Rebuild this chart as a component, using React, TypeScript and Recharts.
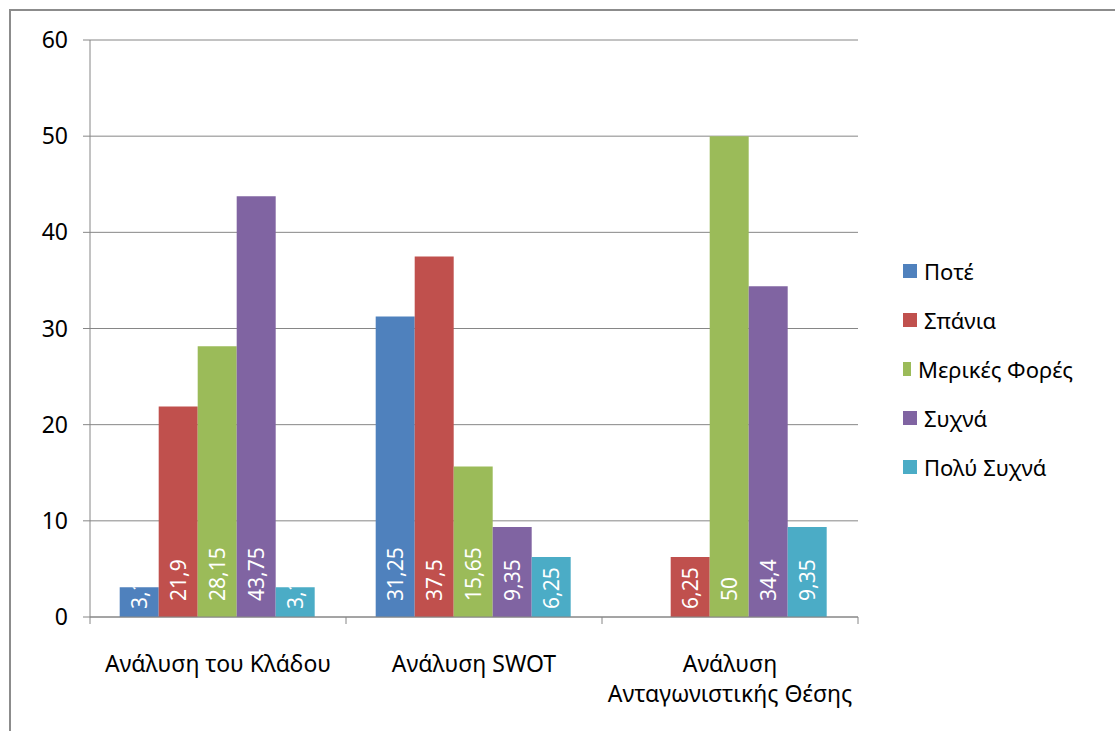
import React from "react";
import { BarChart, Bar, XAxis, YAxis, CartesianGrid, Legend, LabelList } from "recharts";

const FONT = "'Noto Sans', 'Open Sans', sans-serif";
const GRID = "#868686";
const LABEL_SIZE = 21;

const categories = ["Ανάλυση του Κλάδου", "Ανάλυση SWOT", "Ανάλυση\nΑνταγωνιστικής Θέσης"];
const pote = [3.1, 31.25, null];
const spania = [21.9, 37.5, 6.25];
const merikes = [28.15, 15.65, 50];
const syxna = [43.75, 9.35, 34.4];
const polySyxna = [3.1, 6.25, 9.35];
const yTicks = [0, 10, 20, 30, 40, 50, 60];

const series = [
  { key: "pote", name: "Ποτέ", color: "#4F81BD" },
  { key: "spania", name: "Σπάνια", color: "#C0504D" },
  { key: "merikes", name: "Μερικές Φορές", color: "#9BBB59" },
  { key: "syxna", name: "Συχνά", color: "#8064A2" },
  { key: "polySyxna", name: "Πολύ Συχνά", color: "#4BACC6" },
];

const data = categories.map((c, i) => ({
  name: c,
  pote: pote[i],
  spania: spania[i],
  merikes: merikes[i],
  syxna: syxna[i],
  polySyxna: polySyxna[i],
}));

function fmt(v: number) {
  return String(v).replace(".", ",");
}

// rough text length for label placement (digits ~0.57em, comma ~0.26em)
function textLen(s: string) {
  let w = 0;
  for (const ch of s) w += ch === "," ? 0.26 : 0.572;
  return w * LABEL_SIZE;
}

function makeLabel(key: string) {
  return (props: any) => {
    const { x, y, width, height, value, index } = props;
    if (value == null || value === 0) return null;
    const id = `clip-${key}-${index}`;
    const s = fmt(value);
    const h = Number(height);
    const pad = textLen(s) + 32 > h ? 8 : 16;
    const cx = Number(x) + Number(width) / 2;
    const base = Number(y) + h - pad;
    return (
      <g>
        <defs>
          <clipPath id={id}>
            <rect x={x} y={y} width={width} height={height} />
          </clipPath>
        </defs>
        <g clipPath={`url(#${id})`}>
          <g transform={`translate(${cx} ${base}) rotate(-90)`}>
            <text
              x={0}
              y={0}
              textAnchor="start"
              dominantBaseline="central"
              fill="#fff"
              fontSize={LABEL_SIZE}
              fontFamily={FONT}
            >
              {s}
            </text>
          </g>
        </g>
      </g>
    );
  };
}

function CategoryTick(props: any) {
  const { x, y, payload, index, visibleTicksCount } = props;
  const half = payload.offset || 128;
  const lines = String(payload.value).split("\n");
  const last = index === visibleTicksCount - 1;
  return (
    <g>
      <line x1={x - half} x2={x - half} y1={y} y2={y + 7} stroke={GRID} />
      {last && <line x1={x + half} x2={x + half} y1={y} y2={y + 7} stroke={GRID} />}
      {lines.map((l, i) => (
        <text
          key={i}
          x={x}
          y={y + 46 + i * 30}
          textAnchor="middle"
          dominantBaseline="central"
          fill="#000"
          fontSize={23}
          fontFamily={FONT}
        >
          {l}
        </text>
      ))}
    </g>
  );
}

function renderLegend(props: any) {
  const payload: any[] = props.payload || [];
  const items = series.map((s) => {
    const p = payload.find((e) => e.value === s.name);
    return { name: s.name, color: p ? p.color : s.color };
  });
  return (
    <ul style={{ listStyle: "none", margin: 0, padding: "6px 0 0 45px" }}>
      {items.map((e) => (
        <li
          key={e.name}
          style={{ height: 49, display: "flex", alignItems: "center", whiteSpace: "nowrap" }}
        >
          <span style={{ width: 14, height: 14, background: e.color, display: "inline-block", marginRight: 7 }} />
          <span style={{ fontSize: 22, fontFamily: FONT, color: "#000" }}>{e.name}</span>
        </li>
      ))}
    </ul>
  );
}

export default function App() {
  return (
    <div style={{ position: "fixed", left: 0, top: 0, width: 1115, height: 731, overflow: "hidden", background: "#fff" }}>
      <div
        style={{
          position: "absolute",
          left: 9,
          top: 9,
          width: 1200,
          height: 800,
          border: "2px solid #8c8c8c",
        }}
      />
      <div style={{ position: "absolute", left: 0, top: 0 }}>
        <BarChart
          width={1115}
          height={731}
          data={data}
          margin={{ top: 40, right: 42, bottom: 14, left: 20 }}
          barCategoryGap="11.6%"
          barGap={0}
        >
          <CartesianGrid vertical={false} stroke={GRID} />
          <XAxis
            dataKey="name"
            height={100}
            tickSize={0}
            tickMargin={0}
            tickLine={false}
            axisLine={{ stroke: GRID }}
            tick={<CategoryTick />}
            interval={0}
          />
          <YAxis
            width={70}
            domain={[0, 60]}
            ticks={yTicks}
            tickSize={7}
            tickMargin={15}
            axisLine={{ stroke: GRID }}
            tickLine={{ stroke: GRID }}
            tick={{ fill: "#000", fontSize: 23, fontFamily: FONT }}
          />
          <Legend
            layout="vertical"
            align="right"
            verticalAlign="middle"
            width={215}
            content={renderLegend}
          />
          {series.map((s) => (
            <Bar key={s.key} dataKey={s.key} name={s.name} fill={s.color} isAnimationActive={false}>
              <LabelList dataKey={s.key} content={makeLabel(s.key)} />
            </Bar>
          ))}
        </BarChart>
      </div>
    </div>
  );
}
